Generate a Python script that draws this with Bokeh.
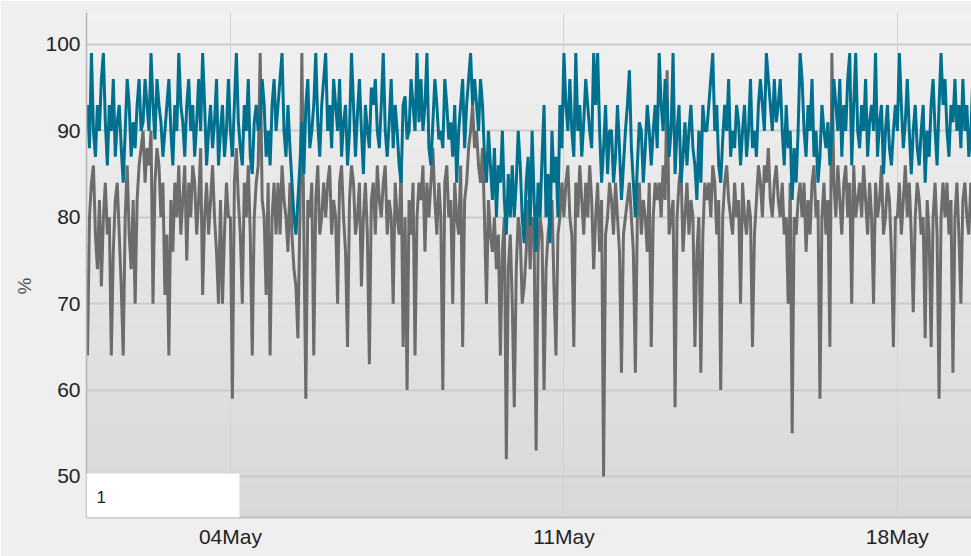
import numpy as np
import pandas as pd
from bokeh.plotting import figure
from bokeh.models import (Range1d, DatetimeTickFormatter, DaysTicker, FixedTicker,
                          BoxAnnotation, Label, Title, ColumnDataSource)
from bokeh.embed import file_html
from bokeh.resources import INLINE

# ---- data (hourly samples) ----
series_start = "2016-05-01 00:00"
teal_values = [
    93, 88, 99, 90, 87, 93, 90, 96, 99, 91, 86, 93, 90, 96, 87, 91, 93, 88, 84, 90, 96, 93, 87, 91,
    88, 93, 96, 90, 91, 96, 93, 90, 99, 93, 89, 96, 93, 91, 87, 90, 93, 96, 90, 86, 93, 90, 99, 93,
    91, 87, 93, 96, 90, 93, 87, 91, 96, 90, 99, 93, 86, 90, 93, 88, 91, 96, 86, 90, 93, 87, 90, 96,
    90, 87, 93, 99, 91, 88, 86, 93, 90, 96, 87, 85, 91, 93, 90, 91, 96, 93, 87, 90, 86, 93, 96, 90,
    93, 96, 99, 90, 87, 93, 88, 84, 80, 78, 82, 86, 91, 85, 93, 96, 88, 90, 93, 99, 91, 87, 93, 96,
    99, 90, 93, 88, 96, 93, 90, 96, 87, 91, 93, 86, 90, 99, 93, 87, 92, 96, 90, 85, 93, 90, 88, 95,
    93, 96, 90, 88, 93, 99, 90, 87, 91, 96, 88, 93, 90, 86, 84, 93, 94, 89, 90, 96, 93, 90, 99, 91,
    96, 90, 93, 99, 88, 86, 91, 96, 93, 89, 90, 88, 96, 93, 89, 91, 87, 93, 84, 90, 93, 96, 88, 93,
    96, 99, 93, 96, 93, 90, 96, 93, 87, 84, 90, 86, 82, 88, 80, 86, 84, 90, 82, 78, 85, 80, 86, 80,
    84, 90, 86, 80, 77, 84, 87, 79, 90, 82, 76, 84, 80, 87, 93, 80, 85, 77, 90, 84, 87, 80, 93, 88,
    99, 93, 90, 96, 90, 87, 99, 90, 93, 87, 91, 96, 93, 90, 88, 99, 93, 99, 90, 84, 88, 93, 85, 90,
    90, 84, 87, 93, 88, 82, 86, 90, 93, 97, 88, 84, 80, 86, 91, 90, 84, 88, 93, 90, 86, 90, 93, 88,
    99, 93, 90, 96, 93, 87, 90, 99, 85, 90, 93, 84, 87, 91, 86, 90, 93, 88, 86, 82, 90, 84, 93, 90,
    90, 93, 96, 99, 90, 93, 86, 84, 89, 93, 90, 96, 87, 90, 88, 93, 91, 86, 90, 93, 87, 90, 96, 88,
    90, 87, 93, 96, 93, 90, 99, 96, 93, 90, 96, 91, 93, 96, 90, 86, 93, 88, 90, 82, 88, 84, 90, 99,
    96, 90, 87, 93, 90, 96, 87, 90, 84, 87, 93, 90, 88, 91, 86, 90, 96, 93, 90, 96, 87, 93, 90, 96,
    99, 86, 93, 99, 90, 88, 93, 90, 96, 87, 91, 93, 90, 99, 87, 91, 93, 85, 90, 93, 88, 86, 90, 93,
    90, 99, 93, 88, 91, 96, 90, 85, 90, 93, 88, 86, 90, 93, 84, 90, 87, 93, 96, 90, 86, 93, 99, 93,
    96, 90, 87, 93, 91, 96, 90, 93, 88, 96, 90, 93, 87, 90, 96,
]
gray_values = [
    64, 80, 84, 86, 78, 74, 82, 72, 80, 84, 78, 80, 64, 76, 82, 84, 78, 72, 64, 80, 86, 78, 74, 82,
    70, 82, 86, 88, 90, 84, 88, 86, 90, 70, 84, 88, 86, 80, 84, 71, 78, 64, 82, 76, 84, 80, 86, 78,
    82, 86, 75, 84, 80, 86, 84, 78, 82, 88, 71, 80, 84, 78, 82, 86, 80, 76, 70, 82, 70, 78, 84, 80,
    80, 59, 84, 88, 82, 78, 70, 84, 80, 86, 78, 64, 80, 84, 86, 99, 82, 80, 71, 84, 64, 80, 84, 78,
    84, 78, 86, 82, 80, 76, 84, 78, 74, 72, 66, 80, 99, 78, 59, 82, 80, 84, 64, 82, 86, 78, 80, 84,
    80, 84, 86, 78, 82, 80, 70, 84, 86, 80, 76, 65, 82, 86, 84, 78, 80, 84, 72, 80, 84, 78, 63, 82,
    84, 78, 86, 82, 80, 84, 86, 78, 82, 80, 70, 84, 80, 78, 86, 65, 80, 60, 82, 78, 84, 64, 80, 84,
    82, 86, 76, 84, 80, 84, 88, 82, 78, 84, 80, 60, 84, 86, 80, 82, 70, 84, 80, 78, 86, 65, 82, 84,
    88, 90, 93, 88, 90, 86, 84, 88, 80, 70, 82, 78, 76, 80, 74, 78, 64, 76, 80, 52, 74, 78, 70, 58,
    74, 80, 78, 70, 72, 76, 82, 74, 80, 78, 53, 76, 80, 78, 60, 74, 78, 80, 82, 72, 64, 78, 80, 84,
    80, 84, 86, 80, 78, 65, 84, 80, 86, 82, 78, 84, 80, 86, 82, 74, 80, 84, 76, 82, 50, 78, 80, 84,
    82, 78, 84, 80, 76, 62, 78, 80, 82, 84, 80, 76, 62, 80, 84, 78, 82, 80, 76, 84, 65, 80, 84, 82,
    84, 80, 86, 82, 97, 78, 80, 82, 58, 80, 84, 86, 76, 80, 84, 78, 82, 80, 65, 76, 80, 62, 78, 84,
    82, 84, 80, 86, 84, 78, 82, 60, 80, 84, 86, 82, 80, 78, 84, 80, 82, 70, 84, 80, 78, 82, 80, 65,
    78, 82, 86, 84, 80, 86, 84, 88, 82, 80, 84, 86, 82, 80, 84, 78, 80, 70, 84, 55, 80, 78, 82, 84,
    80, 84, 76, 82, 78, 84, 86, 80, 82, 59, 80, 84, 78, 82, 65, 99, 84, 80, 86, 82, 78, 84, 86, 80,
    84, 70, 86, 80, 82, 84, 80, 86, 82, 78, 84, 80, 70, 84, 80, 82, 86, 78, 80, 84, 82, 76, 65, 80,
    80, 84, 78, 82, 86, 80, 84, 78, 69, 80, 84, 82, 78, 80, 66, 82, 78, 65, 80, 84, 78, 59, 80, 84,
    80, 84, 78, 82, 62, 80, 84, 78, 70, 82, 84, 80, 78, 84, 82,
]
y_ticks = [50, 60, 70, 80, 90, 100]
x_tick_days = [4, 11, 18, 25]
box_label = "1"
y_label = "%"

times = pd.date_range(series_start, periods=len(teal_values), freq="1h")
src = ColumnDataSource(dict(t=times, teal=teal_values, gray=gray_values))

W, H = 971, 556
left, top, bottom = 86, 12, 39
px_per_day = 47.64
t0 = pd.Timestamp(series_start)
x_start = t0 - pd.Timedelta(minutes=30)
x_end = x_start + pd.Timedelta(days=(W - left) / px_per_day)

p = figure(width=W, height=H, x_axis_type="datetime",
           output_backend="svg", toolbar_location=None,
           x_range=Range1d(x_start, x_end), y_range=Range1d(45.25, 103.7),
           min_border_left=left, min_border_right=0, min_border_top=top,
           min_border_bottom=bottom)

p.background_fill_color = "#e4e4e4"
p.border_fill_color = "#efefef"
p.outline_line_color = None

# vertical gradient background of the plot area
n_bands = 60
y0, y1 = 45.25, 103.7
top_rgb = np.array([241, 241, 241])
bot_rgb = np.array([216, 216, 216])
for i in range(n_bands):
    b = y0 + (y1 - y0) * i / n_bands
    t = y0 + (y1 - y0) * (i + 1) / n_bands + 0.05
    f = (i + 0.5) / n_bands
    c = bot_rgb + (top_rgb - bot_rgb) * f
    col = "#%02x%02x%02x" % tuple(int(round(v)) for v in c)
    p.add_layout(BoxAnnotation(bottom=b, top=t, fill_color=col, fill_alpha=1.0,
                               line_color=None, level="image"))

# grids
p.ygrid.ticker = FixedTicker(ticks=y_ticks)
p.ygrid.grid_line_color = "#cbcbcb"
p.ygrid.grid_line_width = 2
p.xgrid.grid_line_color = "#d2d2d2"
p.xgrid.grid_line_width = 1

# series
p.line("t", "gray", source=src, line_color="#6c6c6c", line_width=3)
p.line("t", "teal", source=src, line_color="#00708f", line_width=3)

# axes
font = "Liberation Sans"
p.xaxis.ticker = DaysTicker(days=x_tick_days)
p.xgrid.ticker = DaysTicker(days=x_tick_days)
p.xaxis.formatter = DatetimeTickFormatter(days="%d%b", months="%d%b")
p.xaxis.major_label_text_font = font
p.xaxis.major_label_text_font_size = "21px"
p.xaxis.major_label_text_color = "#222222"
p.xaxis.major_label_standoff = 7
p.xaxis.axis_line_color = "#bdbdbd"
p.xaxis.axis_line_width = 2

p.yaxis.ticker = FixedTicker(ticks=y_ticks)
p.yaxis.major_label_text_font = font
p.yaxis.major_label_text_font_size = "21px"
p.yaxis.major_label_text_color = "#222222"
p.yaxis.major_label_standoff = 6
p.yaxis.axis_line_color = "#b4b4b4"
p.yaxis.axis_line_width = 1.5

for ax in (p.xaxis, p.yaxis):
    ax.major_tick_out = 0
    ax.major_tick_in = 0
    ax.minor_tick_out = 0
    ax.minor_tick_in = 0

# y label "%" as a left-side title, placed like the reference
p.add_layout(Title(text=y_label, align="left", offset=223, vertical_align="bottom",
                   text_font=font, text_font_size="19px", text_font_style="normal",
                   text_color="#555555", standoff=16), "left")

# white box with "1" at bottom left
box_right = x_start + pd.Timedelta(days=(239 - left) / px_per_day)
p.add_layout(BoxAnnotation(right=box_right, top=50.35, fill_color="white",
                           fill_alpha=1.0, line_color="#e6e6e6", line_width=1))
p.add_layout(Label(x=x_start + pd.Timedelta(days=(96 - left) / px_per_day), y=47.6,
                   text=box_label, text_align="left", text_baseline="middle",
                   text_font=font, text_font_size="17px", text_color="#222222"))

open("out.html", "w").write(file_html(p, INLINE))
